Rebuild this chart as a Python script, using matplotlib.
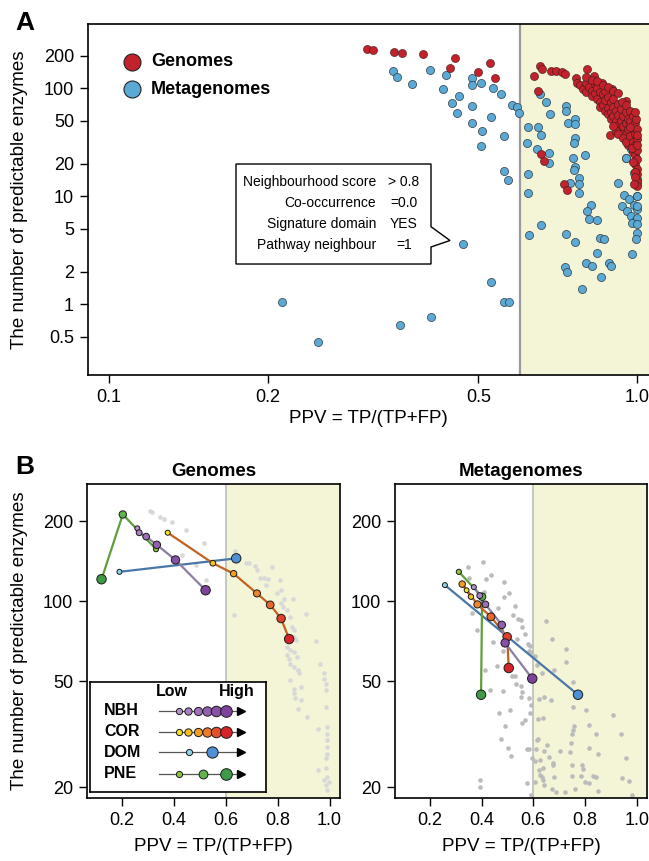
import numpy as np
import matplotlib
matplotlib.use("Agg")
import matplotlib.pyplot as plt
from matplotlib.patches import Polygon
from matplotlib.ticker import NullLocator

plt.rcParams['font.family'] = ['Liberation Sans', 'DejaVu Sans']

# ---------------- Panel A data ----------------
genomes_ppv = [0.308, 0.316, 0.347, 0.358, 0.393, 0.451, 0.442, 0.527, 0.499, 0.538,
               0.653, 0.660, 0.637, 0.685, 0.700, 0.721, 0.729, 0.764, 0.769, 0.804, 0.828, 0.858,
               0.897, 0.951, 0.649, 0.658, 0.665, 0.726, 0.736, 0.889, 0.962,
               0.78, 0.79, 0.80, 0.80, 0.81, 0.82, 0.82, 0.83, 0.83, 0.84, 0.84, 0.85, 0.85, 0.85,
               0.86, 0.86, 0.87, 0.87, 0.87, 0.88, 0.88, 0.88, 0.89, 0.89, 0.89, 0.90, 0.90, 0.90,
               0.91, 0.91, 0.92, 0.92, 0.92, 0.93, 0.93, 0.93, 0.94, 0.94, 0.95, 0.95, 0.95, 0.96, 0.96,
               0.80, 0.82, 0.84, 0.86, 0.88, 0.90, 0.92, 0.935, 0.95,
               0.91, 0.92, 0.90, 0.94, 0.96, 0.95,
               0.97, 0.97, 0.97, 0.98, 0.98, 0.98, 0.98, 0.99, 0.99, 0.99, 0.99, 0.99,
               1.0, 1.0, 1.0, 1.0, 1.0, 1.0, 1.0, 1.0, 0.99, 0.99, 0.985, 0.98, 0.975, 0.97,
               1.0, 1.0, 0.995, 0.99]
genomes_count = [230, 226, 217, 214, 208, 192, 156, 171, 143, 125,
                 161, 152, 130, 145, 145, 142, 135, 126, 113, 150, 130, 113,
                 98, 77, 94, 24.5, 21.2, 12.9, 11.4, 37, 48,
                 108, 98, 112, 92, 104, 95, 85, 110, 90, 100, 80, 92, 75, 68,
                 88, 70, 95, 78, 62, 84, 66, 58, 75, 60, 52, 80, 68, 55,
                 62, 50, 72, 57, 46, 64, 50, 42, 55, 45, 60, 48, 38, 52, 42,
                 128, 120, 118, 108, 102, 95, 90, 75, 70,
                 40, 38, 45, 35, 30, 32,
                 62, 50, 36, 56, 44, 32, 26, 48, 38, 30, 24, 20,
                 42, 34, 27, 22, 18, 16, 14, 12.5, 17, 15, 13, 21, 28, 44,
                 30, 37, 52, 60]

metagenomes_ppv = [0.3445, 0.351, 0.374, 0.406, 0.434, 0.428, 0.459, 0.445, 0.456, 0.486,
                   0.487, 0.487, 0.507, 0.533, 0.553, 0.486, 0.508, 0.506, 0.528, 0.559,
                   0.579, 0.591, 0.598, 0.559, 0.569, 0.467, 0.528, 0.560, 0.571, 0.213,
                   0.249, 0.356, 0.407,
                   0.653, 0.673, 0.683, 0.621, 0.649, 0.656, 0.618, 0.646, 0.679, 0.679,
                   0.621, 0.622, 0.733, 0.733, 0.740, 0.762, 0.762, 0.763, 0.758, 0.755,
                   0.795, 0.763, 0.758, 0.774, 0.774, 0.774, 0.745, 0.816, 0.804, 0.810,
                   0.838, 0.918, 0.951, 0.971, 0.964, 0.986, 1.0, 1.0, 0.944, 0.964,
                   0.937, 0.956, 0.986, 1.0, 0.971, 0.993, 1.0, 0.978, 1.0, 1.0,
                   1.0, 0.998, 0.994, 0.978, 0.851, 0.865, 0.839, 0.798, 0.822, 0.884,
                   0.890, 0.855, 0.784, 0.733, 0.762, 0.656, 0.624, 0.731, 0.736, 0.918,
                   0.950, 1.0, 0.964]
metagenomes_count = [145, 127, 111, 147, 132, 98, 85, 73, 59.6, 68.6,
                     124, 108, 113, 100.7, 89, 48, 40.3, 29.2, 54.7, 36.2,
                     70.6, 67.6, 59.6, 17.2, 14.3, 3.65, 1.62, 1.05, 1.05, 1.05,
                     0.45, 0.65, 0.76,
                     88, 75, 58.3, 44.2, 44.2, 36.7, 31.4, 27.6, 25.4, 20.2,
                     16.2, 10.8, 68.6, 61.7, 48.1, 51.6, 46.4, 34.9, 31.4, 22.8,
                     24.1, 18.8, 17.4, 14.9, 13.1, 10.8, 13.2, 8.3, 7.3, 6.2,
                     6.0, 13.4, 22.8, 27.2, 33.7, 16.6, 14.4, 12.9, 10.4, 9.4,
                     8.1, 7.3, 8.4, 7.6, 6.6, 6.1, 6.3, 5.7, 5.5, 10.1,
                     8.1, 4.6, 4.0, 2.9, 4.1, 4.05, 3.0, 2.4, 2.26, 2.4,
                     2.26, 1.8, 1.4, 4.45, 3.8, 5.4, 4.35, 2.2, 2.0, 39.4,
                     22.6, 10.0, 32.5]

box_labels = ['Neighbourhood score', 'Co-occurrence', 'Signature domain', 'Pathway neighbour']
box_values = ['> 0.8', '=0.0', 'YES', '=1']

# ---------------- Panel B data ----------------
bg_gen_ppv = [0.308, 0.317, 0.347, 0.362, 0.392, 0.447, 0.517, 0.431, 0.486, 0.525, 0.633, 0.637,
              0.643, 0.679, 0.688, 0.711, 0.720, 0.778, 0.731, 0.746, 0.762, 0.756, 0.807, 0.811,
              0.798, 0.826, 0.858, 0.813, 0.821, 0.836, 0.849, 0.908, 0.856, 0.862, 0.862, 0.870,
              0.946, 0.836, 0.849, 0.862, 0.836, 0.843, 0.875, 0.849, 0.862, 0.878, 0.881, 0.963,
              0.849, 0.978, 0.978, 0.985, 0.862, 0.888, 0.985, 0.862, 0.868, 0.888, 0.878, 0.914,
              0.986, 0.955, 0.991, 0.991, 0.991, 0.991, 0.991, 0.985, 0.956, 0.985, 0.991, 0.978,
              0.997, 0.985, 0.988]
bg_gen_count = [218, 216, 208, 204, 198, 185, 166, 149, 137, 120, 89, 154,
                149, 139, 139, 136, 131, 135, 122, 122, 121, 115, 120, 110,
                107, 102, 102, 98.6, 95.3, 92.5, 87.3, 89.9, 80, 77.8, 73.5, 71.3,
                70.8, 67.3, 65.4, 64.5, 62.7, 60.9, 61.8, 58.3, 56.6, 55.1, 53.5, 58.3,
                50.5, 53.5, 51.2, 49.0, 46.9, 47.6, 46.2, 45.0, 43.1, 42.5, 39.5, 36.7,
                40.1, 33.2, 33.7, 31.8, 30.0, 28.3, 26.7, 25.8, 23.1, 23.5, 21.8, 21.2,
                20.9, 20.3, 19.5]

bg_meta_ppv = [0.346, 0.406, 0.352, 0.419, 0.436, 0.486, 0.487, 0.505, 0.409, 0.531, 0.464, 0.362,
               0.522, 0.541, 0.554, 0.558, 0.384, 0.567, 0.537, 0.445, 0.483, 0.580, 0.589, 0.583,
               0.593, 0.608, 0.651, 0.672, 0.728, 0.728, 0.679, 0.616, 0.632, 0.516, 0.529, 0.535,
               0.552, 0.458, 0.415, 0.434, 0.483, 0.558, 0.554, 0.583, 0.590, 0.623, 0.641, 0.668,
               0.754, 0.754, 0.805, 0.908, 0.509, 0.468, 0.567, 0.557, 0.589, 0.619, 0.638, 0.758,
               0.754, 0.750, 0.816, 0.842, 0.492, 0.477, 0.574, 0.584, 0.619, 0.615, 0.610, 0.641,
               0.655, 0.702, 0.741, 0.747, 0.816, 0.851, 0.941, 0.960, 0.504, 0.512, 0.595, 0.608,
               0.625, 0.638, 0.661, 0.677, 0.677, 0.623, 0.625, 0.632, 0.638, 0.680, 0.751, 0.789,
               0.793, 0.751, 0.786, 0.799, 0.816, 0.831, 0.842, 0.945, 0.970, 0.574, 0.606, 0.641,
               0.673, 0.687, 0.722, 0.762, 0.851, 0.983, 0.393, 0.393, 0.593]
bg_meta_count = [135, 140, 122, 121, 126, 118, 104, 107, 108.5, 96, 94, 90,
                 89, 86, 85, 80, 78, 75, 72, 70, 65, 69, 68, 65,
                 64.5, 62, 84, 72, 66, 59, 55, 57.5, 53.5, 52.4, 52.4, 49,
                 48, 57, 55, 46.5, 46, 45.4, 43.7, 43.1, 40.7, 42.8, 43.7, 42.4,
                 49.7, 40.1, 39.1, 37.5, 38.9, 38.1, 35.7, 34.7, 38.1, 36.2, 36.4, 33.9,
                 32.7, 31.8, 34.2, 31.8, 33.9, 30.4, 27.9, 27.7, 30.4, 30.0, 27.8, 27.4,
                 28.7, 27.3, 27.1, 29.3, 28.0, 26.7, 31.6, 25.8, 28.1, 26.1, 25.8, 25.0,
                 25.4, 23.7, 26.0, 24.7, 24.2, 23.1, 22.2, 21.8, 21.2, 21.8, 24.3, 24.3,
                 23.3, 22.0, 22.0, 20.9, 20.7, 22.0, 21.8, 21.7, 21.1, 20.8, 20.9, 20.3,
                 19.7, 19.1, 19.2, 19.7, 19.3, 18.6, 21.3, 20.0, 18.6]

# threshold paths (low -> high)
gen_nbh_ppv = [0.259, 0.266, 0.293, 0.334, 0.406, 0.522]
gen_nbh_cnt = [188, 181, 175, 163, 143, 110]
gen_cor_ppv = [0.376, 0.550, 0.630, 0.720, 0.771, 0.813, 0.844]
gen_cor_cnt = [181, 139, 127, 107, 96.9, 86.1, 72.1]
gen_dom_ppv = [0.190, 0.640]
gen_dom_cnt = [129, 145]
gen_pne_ppv = [0.331, 0.203, 0.121]
gen_pne_cnt = [157, 212, 121]

meta_nbh_ppv = [0.370, 0.393, 0.415, 0.478, 0.491, 0.596]
meta_nbh_cnt = [113, 105, 97.3, 81.5, 69.7, 51.2]
meta_cor_ppv = [0.342, 0.359, 0.325, 0.384, 0.436, 0.499, 0.505]
meta_cor_cnt = [110, 104, 116, 97.3, 87.4, 73.5, 56.1]
meta_dom_ppv = [0.258, 0.773]
meta_dom_cnt = [115, 44.5]
meta_pne_ppv = [0.312, 0.402, 0.398]
meta_pne_cnt = [129, 104, 44.5]

legend_rows = ['NBH', 'COR', 'DOM', 'PNE']

# ---------------- styles ----------------
RED = '#C1222B'
BLUE = '#5BAAD6'
YELLOW = '#F4F5D7'
NBH_COLS = ['#B792CC', '#AA80C3', '#9D6EB9', '#9260AF', '#8850A6', '#7E429D']
COR_COLS7 = ['#F6E51C', '#F7C01B', '#F39D27', '#EE852A', '#E8682B', '#DF3F2B', '#D6232A']
COR_COLS6 = ['#F6E51C', '#F7C01B', '#F39D27', '#EC7A2A', '#E2502B', '#D6232A']
DOM_COLS = ['#8FD3EA', '#4F8FD6']
PNE_COLS = ['#8CC63F', '#62B44A', '#3E9A47']
NBH_LINE = '#8C7EA3'
COR_LINE = '#C2621F'
DOM_LINE = '#4A76A8'
PNE_LINE = '#5E9F3A'

W, H = 649, 861
fig = plt.figure(figsize=(W / 100, H / 100), dpi=100)


def rect(x0, y0, x1, y1):
    return [x0 / W, 1 - y1 / H, (x1 - x0) / W, (y1 - y0) / H]


def style_axes(ax, fs=13):
    ax.tick_params(axis='both', which='major', direction='out', length=6, width=1,
                   labelsize=fs, pad=4, colors='black')
    ax.xaxis.set_minor_locator(NullLocator())
    ax.yaxis.set_minor_locator(NullLocator())
    for s in ax.spines.values():
        s.set_linewidth(1.2)


# ================= Panel A =================
axA = fig.add_axes(rect(88, 24, 649, 375))
axA.set_xscale('log')
axA.set_yscale('log')
xr = 1.052
axA.set_xlim(0.0913, xr)
axA.set_ylim(0.222, 395)
axA.axvspan(0.6, xr, color=YELLOW, lw=0, zorder=0)
axA.axvline(0.6, color='#9a9a9a', lw=1.6, zorder=1)
axA.scatter(metagenomes_ppv, metagenomes_count, s=34, c=BLUE, edgecolors='#2d3b44',
            linewidths=0.5, zorder=3)
axA.scatter(genomes_ppv, genomes_count, s=34, c=RED, edgecolors='#3a1a1a',
            linewidths=0.4, zorder=4)
axA.set_xticks([0.1, 0.2, 0.5, 1.0])
axA.set_xticklabels(['0.1', '0.2', '0.5', '1.0'])
axA.set_yticks([0.5, 1, 2, 5, 10, 20, 50, 100, 200])
axA.set_yticklabels(['0.5', '1', '2', '5', '10', '20', '50', '100', '200'])
style_axes(axA)
axA.spines['right'].set_visible(False)
axA.set_xlabel('PPV = TP/(TP+FP)', fontsize=13.5)
axA.xaxis.set_label_coords(0.5, -0.10)
axA.set_ylabel('The number of predictable enzymes', fontsize=13.5)
axA.yaxis.set_label_coords(-0.107, 0.5)

# legend A
for yy, col, lab in [(0.8926, RED, 'Genomes'), (0.8148, BLUE, 'Metagenomes')]:
    axA.scatter([0.0779], [yy], s=150, c=col, edgecolors='#222222', linewidths=0.8,
                transform=axA.transAxes, zorder=5, clip_on=False)
    axA.text(0.1123, yy, lab, transform=axA.transAxes, fontsize=13, fontweight='bold',
             ha='left', va='center')

# annotation box with pointer
x0, x1 = 0.2638, 0.6114
yt, yb = 0.6011, 0.3162
poly = Polygon([(x0, yt), (x1, yt), (x1, 0.4225), (0.6453, 0.3832), (x1, 0.3647),
                (x1, yb), (x0, yb)], closed=True, facecolor='white', edgecolor='black',
               lw=1.0, transform=axA.transAxes, zorder=6)
axA.add_patch(poly)
rows_y = [0.5499, 0.490, 0.430, 0.370]
for yy, lab, val in zip(rows_y, box_labels, box_values):
    axA.text(0.5134, yy, lab, transform=axA.transAxes, fontsize=10, ha='right',
             va='center', zorder=7)
    axA.text(0.5633, yy, val, transform=axA.transAxes, fontsize=10, ha='center',
             va='center', zorder=7)

fig.text(25 / W, 1 - 23 / H, 'A', fontsize=19, fontweight='bold', ha='center', va='center')
fig.text(25 / W, 1 - 467 / H, 'B', fontsize=19, fontweight='bold', ha='center', va='center')

# ================= Panel B =================
sizes7 = [13, 17, 21, 26, 31, 37, 46]
sizes6 = [13, 18, 23, 29, 36, 46]


def draw_path(ax, xs, ys, cols, sizes, lcol):
    ax.plot(xs, ys, color=lcol, lw=1.6, zorder=3, solid_capstyle='round')
    ax.scatter(xs, ys, s=sizes, c=cols, edgecolors='#1a1a1a', linewidths=0.7, zorder=4)


def panel_B(ax, bgx, bgy, bgcol, title, paths):
    ax.set_yscale('log')
    ax.set_xlim(0.065, 1.04)
    ax.set_ylim(18.2, 276)
    ax.axvspan(0.6, 1.04, color=YELLOW, lw=0, zorder=0)
    ax.axvline(0.6, color='#bdbdbd', lw=1.2, zorder=1)
    ax.scatter(bgx, bgy, s=11, c=bgcol, linewidths=0, zorder=2)
    for p in paths:
        draw_path(ax, *p)
    ax.set_xticks([0.2, 0.4, 0.6, 0.8, 1.0])
    ax.set_xticklabels(['0.2', '0.4', '0.6', '0.8', '1.0'])
    ax.set_yticks([20, 50, 100, 200])
    ax.set_yticklabels(['20', '50', '100', '200'])
    style_axes(ax)
    ax.set_xlabel('PPV = TP/(TP+FP)', fontsize=13.5)
    ax.xaxis.set_label_coords(0.5, -0.128)
    ax.text(0.5, 1.041, title, transform=ax.transAxes, fontsize=13.5, fontweight='bold',
            ha='center', va='center')


axB1 = fig.add_axes(rect(87, 484, 340, 798))
panel_B(axB1, bg_gen_ppv, bg_gen_count, '#D8D8D8', 'Genomes', [
    (gen_pne_ppv, gen_pne_cnt, PNE_COLS, [14, 28, 46], PNE_LINE),
    (gen_dom_ppv, gen_dom_cnt, DOM_COLS, [13, 46], DOM_LINE),
    (gen_nbh_ppv, gen_nbh_cnt, NBH_COLS, sizes6, NBH_LINE),
    (gen_cor_ppv, gen_cor_cnt, COR_COLS7, sizes7, COR_LINE),
])
axB1.set_ylabel('The number of predictable enzymes', fontsize=13.5)
axB1.yaxis.set_label_coords(-0.233, 0.5)

axB2 = fig.add_axes(rect(395, 484, 647, 798))
panel_B(axB2, bg_meta_ppv, bg_meta_count, '#BBBBBB', 'Metagenomes', [
    (meta_dom_ppv, meta_dom_cnt, DOM_COLS, [13, 46], DOM_LINE),
    (meta_pne_ppv, meta_pne_cnt, PNE_COLS, [14, 28, 46], PNE_LINE),
    (meta_cor_ppv, meta_cor_cnt, COR_COLS7, [12, 15, 22, 27, 32, 37, 46], COR_LINE),
    (meta_nbh_ppv, meta_nbh_cnt, NBH_COLS, sizes6, NBH_LINE),
])

# legend of panel B (drawn as small inset box)
axL = fig.add_axes(rect(90, 682, 266, 792))
axL.set_xlim(0, 176)
axL.set_ylim(110, 0)
axL.set_xticks([])
axL.set_yticks([])
axL.set_facecolor('white')
for s in axL.spines.values():
    s.set_linewidth(1.2)
axL.text(81.7, 9.7, 'Low', fontsize=11.5, fontweight='bold', ha='center', va='center')
axL.text(146.7, 9.7, 'High', fontsize=11.5, fontweight='bold', ha='center', va='center')
row_y = [28.7, 49.7, 70.3, 92.0]
leg_x = {
    'NBH': ([88.7, 98.3, 107.7, 117.0, 126.3, 136.0], NBH_COLS, [3.3, 3.9, 4.4, 5.0, 5.6, 6.2]),
    'COR': ([88.7, 98.3, 107.7, 117.0, 126.3, 136.0], COR_COLS6, [3.3, 3.9, 4.4, 5.0, 5.6, 6.2]),
    'DOM': ([99.0, 122.3], DOM_COLS, [3.3, 6.0]),
    'PNE': ([88.7, 112.7, 135.7], PNE_COLS, [3.3, 4.7, 6.2]),
}
for yy, name in zip(row_y, legend_rows):
    axL.text(14, yy, name, fontsize=11.5, fontweight='bold', ha='left', va='center')
    axL.plot([69.3, 150], [yy, yy], color='#555555', lw=0.9, zorder=2)
    axL.plot([151], [yy], marker='>', ms=6, color='black', zorder=3)
    xs, cols, ms = leg_x[name]
    for xx, cc, mm in zip(xs, cols, ms):
        axL.plot([xx], [yy], marker='o', ms=mm * 1.35, mfc=cc, mec='#1a1a1a', mew=0.7,
                 zorder=4)

fig.savefig('out.png', dpi=100)
